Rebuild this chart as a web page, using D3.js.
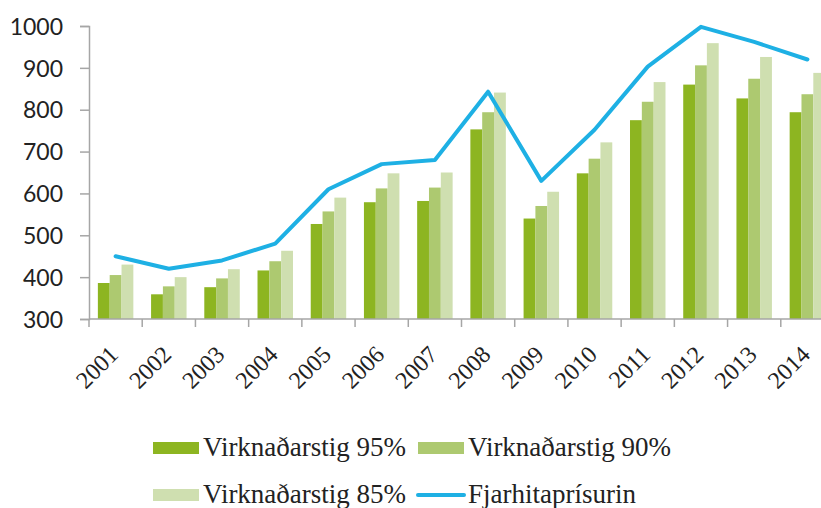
<!DOCTYPE html>
<html>
<head>
<meta charset="utf-8">
<script src="https://cdn.jsdelivr.net/npm/d3@7"></script>
<style>
  body { margin:0; background:#fff; }
</style>
</head>
<body>
<div id="chart"></div>
<script>
var years = ['2001','2002','2003','2004','2005','2006','2007','2008','2009','2010','2011','2012','2013','2014'];
var stig95 = [386,359,376,416,527,579,582,753,540,648,775,860,827,794];
var stig90 = [405,378,397,438,557,612,614,794,570,683,819,906,874,837];
var stig85 = [430,400,419,463,590,648,650,841,604,722,866,959,926,888];
var fjarhiti = [450,420,440,480,610,670,680,843,630,752,903,998,962,920];
var yTicks = [300,400,500,600,700,800,900,1000];
var seriesNames = ['Virknaðarstig 95%','Virknaðarstig 90%','Virknaðarstig 85%'];
var lineName = 'Fjarhitaprísurin';

var colors = ['#8db521','#adc970','#cfdfb0'];
var lineColor = '#1eb0e4';
var axisColor = '#a6a6a6';
var serif = "'Liberation Serif', 'Times New Roman', serif";
var sans = "Lato, 'Open Sans', sans-serif";

var margin = {top:26, left:89};
var fullW = 821, fullH = 508;
var width = 745, height = 293;

var svg = d3.select('#chart').append('svg')
    .attr('width', fullW)
    .attr('height', fullH);

var plot = svg.append('g')
    .attr('transform', 'translate(' + margin.left + ',' + margin.top + ')');

var xScale = d3.scaleBand().domain(years).range([0, width]).padding(0);
var xInner = d3.scaleBand().domain([0,1,2]).range([0, xScale.bandwidth()])
    .paddingInner(0).paddingOuter(0.75);
var yScale = d3.scaleLinear().domain([300, 1000]).range([height, 0]);

var rows = years.map(function(y, i){
  return {year:y, vals:[stig95[i], stig90[i], stig85[i]], line:fjarhiti[i]};
});

// bars
var groups = plot.selectAll('.g-year')
    .data(rows)
    .enter()
    .append('g')
    .attr('class','g-year')
    .attr('transform', function(d){ return 'translate(' + xScale(d.year) + ',0)'; });

groups.selectAll('rect')
    .data(function(d){ return d.vals; })
    .enter()
    .append('rect')
    .attr('x', function(d, i){ return xInner(i); })
    .attr('y', function(d){ return yScale(d); })
    .attr('width', xInner.bandwidth())
    .attr('height', function(d){ return height - yScale(d); })
    .attr('fill', function(d, i){ return colors[i]; });

// y axis
var yAxis = d3.axisLeft(yScale).tickValues(yTicks).tickFormat(d3.format('d')).tickSize(9).tickPadding(17);
var gy = plot.append('g').attr('class','y-axis').call(yAxis);
gy.select('.domain').attr('stroke', axisColor).attr('stroke-width', 1.5);
gy.selectAll('.tick line').attr('stroke', axisColor).attr('stroke-width', 1.5);
gy.selectAll('.tick text')
    .attr('dy', '0.36em')
    .style('font-family', sans)
    .style('font-size', '23px')
    .style('fill', '#222');

// x axis: baseline, boundary ticks, rotated labels
var gx = plot.append('g').attr('class','x-axis').attr('transform','translate(0,' + height + ')');
gx.append('line')
    .attr('x1', 0).attr('x2', width)
    .attr('stroke', axisColor).attr('stroke-width', 1.5);
var bounds = years.map(function(y){ return xScale(y); }).concat([width]);
gx.selectAll('.x-tick')
    .data(bounds)
    .enter()
    .append('line')
    .attr('class','x-tick')
    .attr('x1', function(d){ return d; })
    .attr('x2', function(d){ return d; })
    .attr('y1', 0).attr('y2', 8)
    .attr('stroke', axisColor).attr('stroke-width', 1.5);
gx.selectAll('.x-label')
    .data(years)
    .enter()
    .append('text')
    .attr('class','x-label')
    .attr('text-anchor','end')
    .attr('transform', function(d){
      var cx = xScale(d) + xScale.bandwidth()/2 + 4;
      return 'translate(' + cx + ',37) rotate(-45)';
    })
    .style('font-family', serif)
    .style('font-size', '24px')
    .style('fill', '#222')
    .text(function(d){ return d; });

// line
var lineGen = d3.line()
    .x(function(d){ return xScale(d.year) + xScale.bandwidth()/2; })
    .y(function(d){ return yScale(d.line); });

plot.append('path')
    .attr('d', lineGen(rows))
    .attr('fill','none')
    .attr('stroke', lineColor)
    .attr('stroke-width', 4)
    .attr('stroke-linejoin','round')
    .attr('stroke-linecap','round');

// legend
var legendItems = [
  {name:seriesNames[0], type:'rect', color:colors[0], x:153, y:448},
  {name:seriesNames[1], type:'rect', color:colors[1], x:418, y:448},
  {name:seriesNames[2], type:'rect', color:colors[2], x:153, y:495},
  {name:lineName, type:'line', color:lineColor, x:418, y:495}
];
var legend = svg.append('g').attr('class','legend');
var li = legend.selectAll('.li')
    .data(legendItems)
    .enter()
    .append('g')
    .attr('class','li')
    .attr('transform', function(d){ return 'translate(' + d.x + ',' + d.y + ')'; });
li.filter(function(d){ return d.type === 'rect'; })
    .append('rect')
    .attr('x',0).attr('y',-6).attr('width',46).attr('height',12)
    .attr('fill', function(d){ return d.color; });
li.filter(function(d){ return d.type === 'line'; })
    .append('line')
    .attr('x1',0).attr('x2',46).attr('y1',0).attr('y2',0)
    .attr('stroke', function(d){ return d.color; })
    .attr('stroke-width',4).attr('stroke-linecap','round');
li.append('text')
    .attr('x', 50)
    .attr('y', 8)
    .style('font-family', serif)
    .style('font-size', '27px')
    .style('fill', '#222')
    .text(function(d){ return d.name; });
</script>
</body>
</html>
